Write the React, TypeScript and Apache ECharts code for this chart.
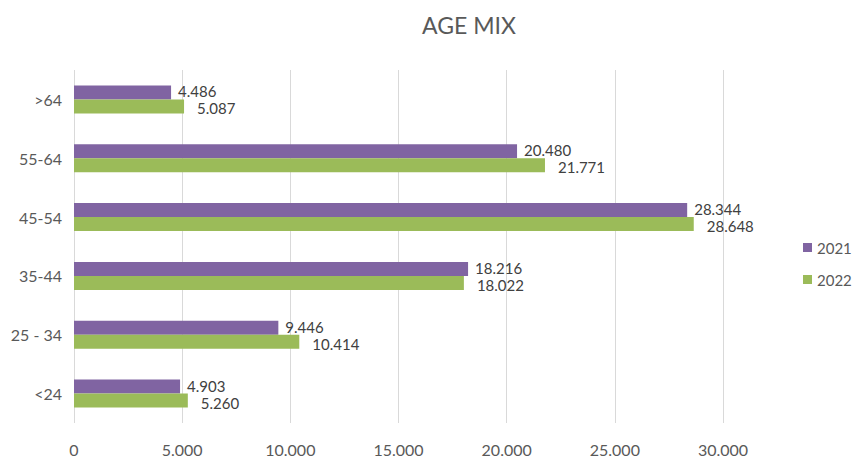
import React, { useEffect, useRef } from "react";
import * as echarts from "echarts";

const categories = ["<24", "25 - 34", "35-44", "45-54", "55-64", ">64"];
const series2021 = [4903, 9446, 18216, 28344, 20480, 4486];
const series2022 = [5260, 10414, 18022, 28648, 21771, 5087];
const seriesNames = ["2021", "2022"];
const xTicks = { min: 0, max: 30000, interval: 5000 };

const fmt = (v: number) => {
  const s = String(Math.round(v));
  return s.replace(/\B(?=(\d{3})+(?!\d))/g, ".");
};

const FONT = "Lato, 'Noto Sans', sans-serif";

export default function App() {
  const ref = useRef<HTMLDivElement>(null);
  useEffect(() => {
    if (!ref.current) return;
    const chart = echarts.init(ref.current, null, { renderer: "svg" });
    const label = {
      show: true,
      position: "right" as const,
      distance: 7,
      color: "#404040",
      fontSize: 15,
      lineHeight: 15,
      fontFamily: FONT,
      formatter: (p: any) => fmt(p.value),
    };
    chart.setOption({
      animation: false,
      textStyle: { fontFamily: FONT },
      title: {
        text: "AGE MIX",
        left: 464,
        top: 8,
        textAlign: "center",
        textStyle: { color: "#595959", fontSize: 23, fontWeight: "normal", fontFamily: FONT },
      },
      legend: {
        orient: "vertical",
        left: 798,
        top: 235,
        itemWidth: 9,
        itemHeight: 9,
        itemGap: 17,
        icon: "rect",
        textStyle: { color: "#595959", fontSize: 15, fontFamily: FONT },
        data: seriesNames,
      },
      grid: { left: 74, right: 129, top: 70, bottom: 36, containLabel: false },
      xAxis: {
        type: "value",
        min: xTicks.min,
        max: xTicks.max,
        interval: xTicks.interval,
        axisLine: { show: false },
        axisTick: { show: false },
        splitLine: { show: true, lineStyle: { color: "#D9D9D9", width: 1 } },
        axisLabel: {
          color: "#595959",
          fontSize: 16,
          margin: 18,
          fontFamily: FONT,
          formatter: (v: number) => fmt(v),
        },
      },
      yAxis: {
        type: "category",
        data: categories,
        axisLine: { show: false },
        axisTick: { show: false },
        axisLabel: { color: "#595959", fontSize: 16, margin: 12, fontFamily: FONT },
      },
      series: [
        {
          name: seriesNames[0],
          type: "bar",
          data: series2021,
          itemStyle: { color: "#8064A2" },
          barWidth: 14,
          barGap: "0%",
          label: { ...label, offset: [0, -1] },
        },
        {
          name: seriesNames[1],
          type: "bar",
          data: series2022,
          itemStyle: { color: "#9BBB59" },
          barWidth: 14,
          barGap: "0%",
          label: { ...label, offset: [6, 2] },
        },
      ],
    });
    return () => chart.dispose();
  }, []);
  return <div ref={ref} style={{ width: 852, height: 459, position: "absolute", left: 0, top: 0, background: "#fff" }} />;
}
